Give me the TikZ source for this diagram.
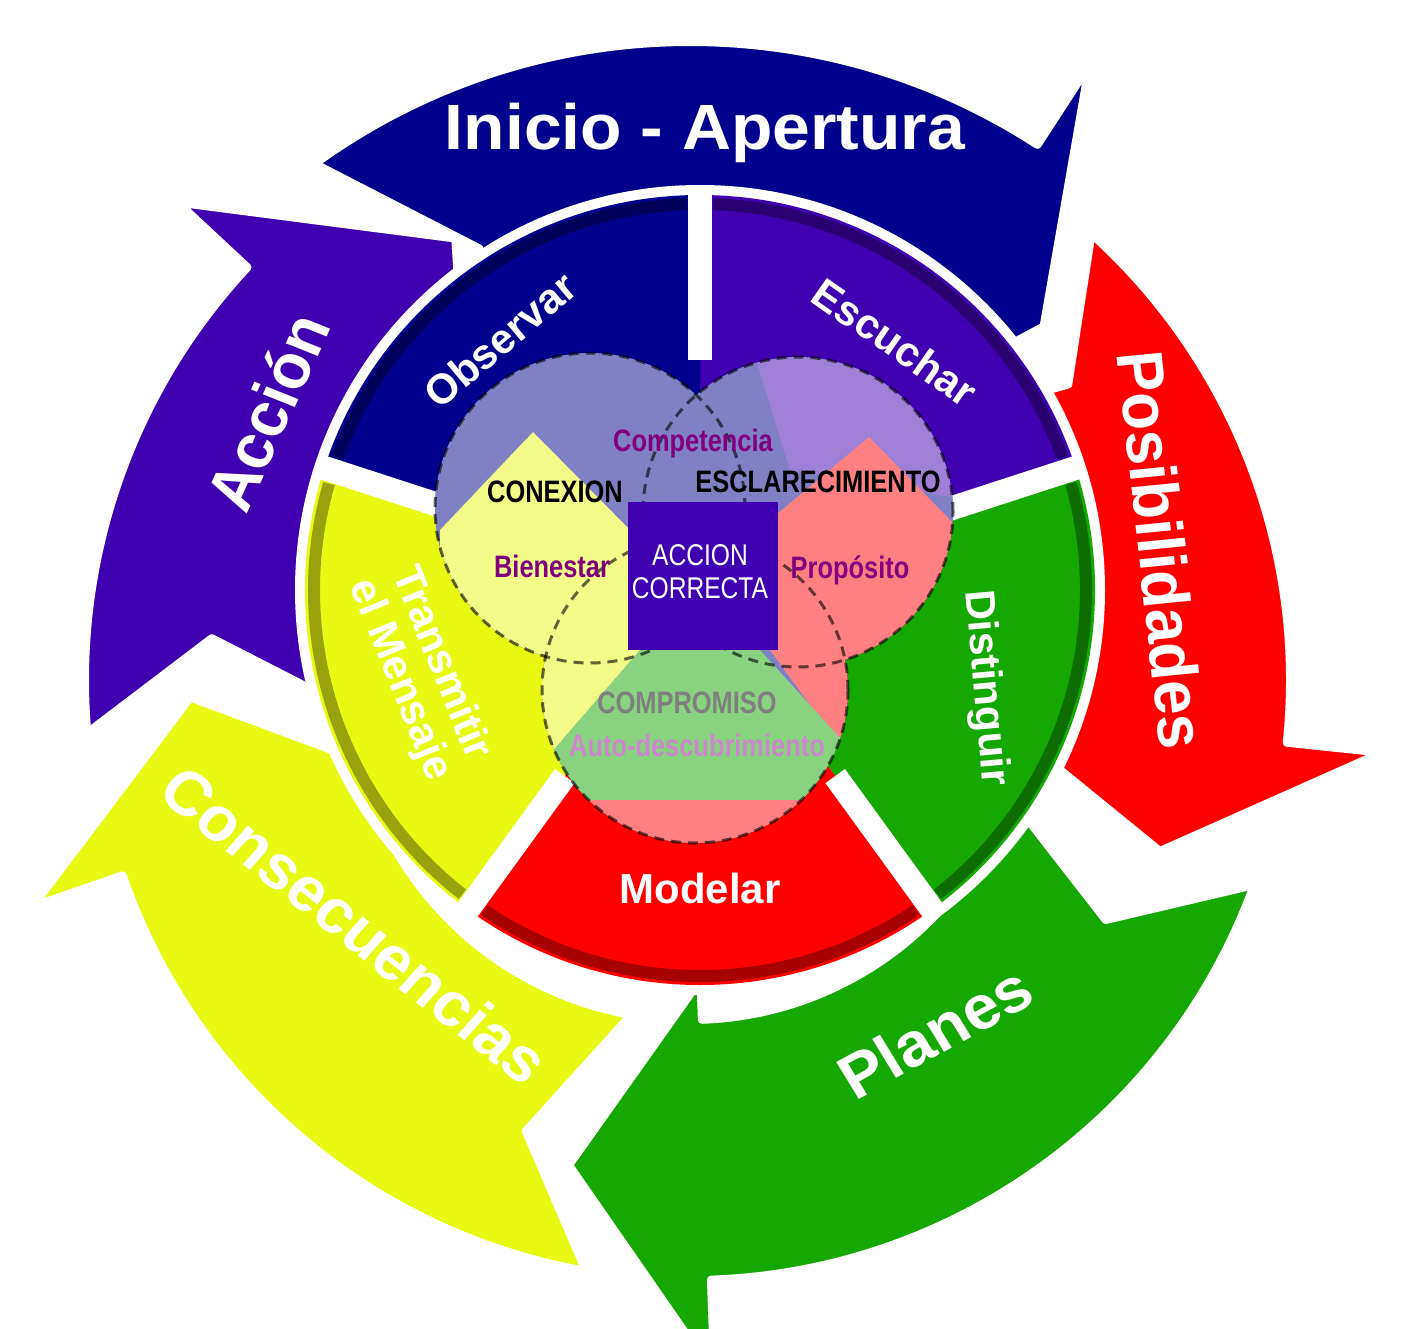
\documentclass[tikz,border=0pt]{standalone}
\usepackage{fontspec}
\setmainfont{Liberation Sans}
\begin{document}
\begin{tikzpicture}[x=1pt,y=1pt,
  big/.style={text=white,font=\fontsize{62}{62}\selectfont\bfseries,xscale=1.06},
  seg/.style={text=white,font=\fontsize{42}{44}\selectfont\bfseries,align=center},
  ctr/.style={font=\fontsize{31}{32}\selectfont\bfseries,xscale=0.82}]
\useasboundingbox (0,0) rectangle (1404,-1329);
\definecolor{navy}{RGB}{0,0,140}
\definecolor{purp}{RGB}{64,0,176}
\definecolor{grn}{RGB}{20,168,0}
\definecolor{yel}{RGB}{232,250,20}
\definecolor{rd}{RGB}{255,0,0}
\definecolor{vpurple}{RGB}{128,0,128}
\newcommand\outarrow[5]{%
 \fill[#4,draw=white,line width=8pt,line join=round] (#1:#5) arc[start angle=#1,end angle=#2,radius=#5] -- (#2:#5+95) -- (#3:500) -- (#2:300) -- (#2:340) arc[start angle=#2,end angle=#1,radius=340] -- ({#1-10}:480) -- cycle;}
\begin{scope}[shift={(690,-680)}]
\outarrow{126}{57}{45}{navy}{638}
\outarrow{48}{-6}{-20}{rd}{600}
\outarrow{-20}{-88}{-104}{grn}{600}
\outarrow{-100}{-161}{-178}{yel}{600}
\outarrow{185}{137}{118}{purp}{605}
\end{scope}
% wheel
\begin{scope}[shift={(700,-590)}]
\fill[white] (0,0) circle (405);
\fill[purp] (0,0) -- (18:395) arc[start angle=18,end angle=90,radius=395] -- cycle;
\fill[grn] (0,0) -- (-54:395) arc[start angle=-54,end angle=18,radius=395] -- cycle;
\fill[rd] (0,0) -- (-126:395) arc[start angle=-126,end angle=-54,radius=395] -- cycle;
\fill[yel] (0,0) -- (162:395) arc[start angle=162,end angle=234,radius=395] -- cycle;
\fill[navy] (0,0) -- (90:395) arc[start angle=90,end angle=162,radius=395] -- cycle;
\foreach \a/\b in {20/88,-52/16,-124/-56,164/232,92/160}
  \draw[black,opacity=0.35,line width=12pt] (\a:386) arc[start angle=\a,end angle=\b,radius=386];
\foreach \a in {90,18,-54,-126,162}
  \draw[white,line width=24pt] (\a:230) -- (\a:400);
\end{scope}
% venn inner colours
\begin{scope}
\clip (590,-508) circle (155) (798,-512) circle (155) (695,-690) circle (153);
\fill[navy] (400,-330) rectangle (1000,-860);
\fill[purp] (750,-340) -- (970,-340) -- (970,-500) -- (790,-470) -- cycle;
\fill[yel] (533,-432) -- (640,-540) -- (640,-650) -- (545,-760) -- (440,-660) -- (440,-530) -- cycle;
\fill[rd] (869,-437) -- (960,-530) -- (960,-660) -- (850,-760) -- (770,-650) -- (770,-520) -- cycle;
\fill[grn] (640,-650) -- (760,-650) -- (860,-760) -- (860,-850) -- (530,-850) -- (545,-760) -- cycle;
\fill[rd] (530,-800) -- (860,-800) -- (860,-850) -- (530,-850) -- cycle;
\fill[white,opacity=0.5] (400,-330) rectangle (1000,-860);
\end{scope}
\foreach \c/\r in {{(590,-508)}/155,{(798,-512)}/155,{(695,-690)}/153}
  \draw[black,opacity=0.6,dash pattern=on 10pt off 7pt,line width=3pt] \c circle (\r);
\node[fill=purp,minimum width=150pt,minimum height=148pt,inner sep=0] (sq) at (703,-576) {};
\node[text=white,font=\fontsize{30}{33}\selectfont,xscale=0.82,align=center] (ac) at (700,-572) {ACCION\\CORRECTA};
\node[ctr,text=vpurple] (comp) at (693,-443) {Competencia};
\node[ctr,text=black] (cx) at (555,-492) {CONEXION};
\node[ctr,text=black] (es) at (818,-482) {ESCLARECIMIENTO};
\node[ctr,text=vpurple] (bi) at (552,-566) {Bienestar};
\node[ctr,text=vpurple] (pr) at (850,-570) {Propósito};
\node[ctr,text=black!50] (cm) at (687,-703) {COMPROMISO};
\node[ctr,text={rgb,255:red,204;green,136;blue,204}] (au) at (697,-745) {Auto-descubrimiento};
% segment labels
\node[seg,rotate=40] (obs) at (500,-340) {Observar};
\node[seg,rotate=-35] (esc) at (895,-342) {Escuchar};
\node[seg,rotate=-85] (dis) at (985,-688) {Distinguir};
\node[seg] (mod) at (700,-888) {Modelar};
\node[seg,rotate=-68] (tr) at (420,-672) {Transmitir\\el Mensaje};
% outer labels
\node[big,font=\fontsize{64}{64}\selectfont\bfseries] (ini) at (705,-133) {Inicio - Apertura};
\node[big,rotate=-84] (pos) at (1162,-550) {Posibilidades};
\node[big,rotate=30] (pla) at (935,-1032) {Planes};
\node[big,rotate=-40] (con) at (355,-925) {Consecuencias};
\node[big,rotate=67] (acc) at (267,-412) {Acción};
\end{tikzpicture}
\end{document}
